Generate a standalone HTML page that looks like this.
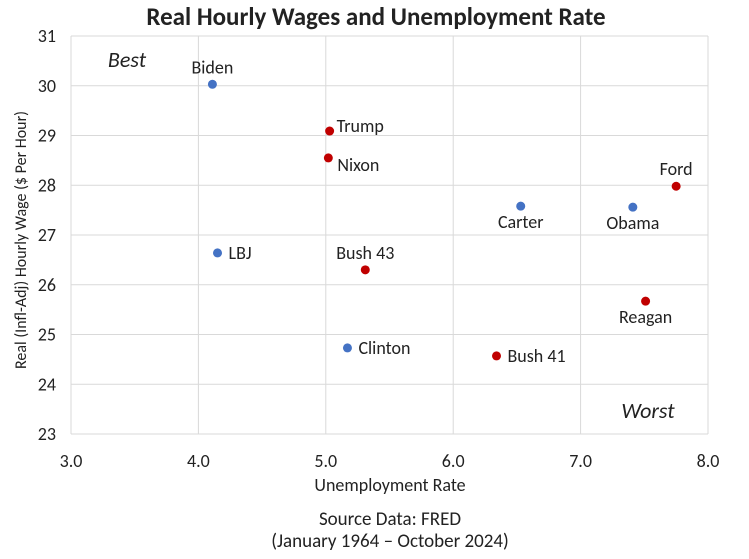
<!DOCTYPE html>
<html><head><meta charset="utf-8"><style>
body{margin:0;background:#fff;}
svg text{font-family:"Carlito","Liberation Sans",sans-serif;fill:#222;}
</style></head><body>
<svg width="749" height="554" xmlns="http://www.w3.org/2000/svg">
<text x="376" y="25" text-anchor="middle" font-size="25" font-weight="bold">Real Hourly Wages and Unemployment Rate</text>
<g id="grid"></g>
<g id="marks"></g>
<text x="127" y="67" font-size="22" font-style="italic" text-anchor="middle">Best</text>
<text x="648" y="418" font-size="22" font-style="italic" text-anchor="middle">Worst</text>
<text x="390" y="491" font-size="18" text-anchor="middle">Unemployment Rate</text>
<text transform="translate(26,240) rotate(-90)" font-size="16" text-anchor="middle">Real (Infl-Adj) Hourly Wage ($ Per Hour)</text>
<text x="390" y="525" font-size="19" text-anchor="middle">Source Data: FRED</text>
<text x="390" y="547" font-size="19" text-anchor="middle">(January 1964 – October 2024)</text>
</svg>
<script>
const names=["Biden","Trump","Nixon","Ford","Carter","Obama","LBJ","Bush 43","Reagan","Clinton","Bush 41"];
const unemp=[4.11,5.03,5.02,7.75,6.53,7.41,4.15,5.31,7.51,5.17,6.34];
const wage=[30.03,29.09,28.55,27.98,27.58,27.56,26.64,26.30,25.67,24.73,24.57];
const party=["D","R","R","R","D","D","D","R","R","D","R"];
const xTicks=[3,4,5,6,7,8];
const yTicks=[23,24,25,26,27,28,29,30,31];
const X0=71,X1=708,Y0=434,Y1=36;
const sx=v=>X0+(v-3)/5*(X1-X0);
const sy=v=>Y0-(v-23)/8*(Y0-Y1);
const NS="http://www.w3.org/2000/svg";
const grid=document.getElementById('grid'),marks=document.getElementById('marks');
function mk(tag,at,parent){const e=document.createElementNS(NS,tag);for(const k in at)e.setAttribute(k,at[k]);parent.appendChild(e);return e;}
xTicks.forEach(t=>{
 const l=mk('line',{x1:sx(t),x2:sx(t),y1:Y1,y2:Y0,stroke:'#d9d9d9','stroke-width':1},grid);
 
 
 const tx=mk('text',{x:sx(t),y:Y0+33,'text-anchor':'middle','font-size':18},grid);tx.textContent=t.toFixed(1);
 
 
});
yTicks.forEach(t=>{
 const l=mk('line',{x1:X0,x2:X1,y1:sy(t),y2:sy(t),stroke:'#d9d9d9','stroke-width':1},grid);
 
 
 const tx=mk('text',{x:X0-15,y:sy(t)+6,'text-anchor':'end','font-size':18},grid);tx.textContent=t;
 
 
});
const pos={"Biden":"above","Ford":"above","Bush 43":"above","Carter":"below","Obama":"below","Reagan":"below","Trump":"upright","Nixon":"downright"};
names.forEach((n,i)=>{
 const cx=sx(unemp[i]),cy=sy(wage[i]);
 const c=mk('circle',{cx:cx,cy:cy,r:4.5,fill:party[i]==="D"?"#4472C4":"#C00000"},marks);
 
 
 let p=pos[n]||"right",at;
 if(p==="above")at={x:cx,y:cy-11,'text-anchor':'middle'};
 else if(p==="below")at={x:cx,y:cy+22,'text-anchor':'middle'};
 else if(p==="upright")at={x:cx+7,y:cy+1,'text-anchor':'start'};
 else if(p==="downright")at={x:cx+9,y:cy+13,'text-anchor':'start'};
 else at={x:cx+11,y:cy+6,'text-anchor':'start'};
 at['font-size']=18;
 const t=mk('text',at,marks);t.textContent=n;
 
 
});
</script>
</body></html>
